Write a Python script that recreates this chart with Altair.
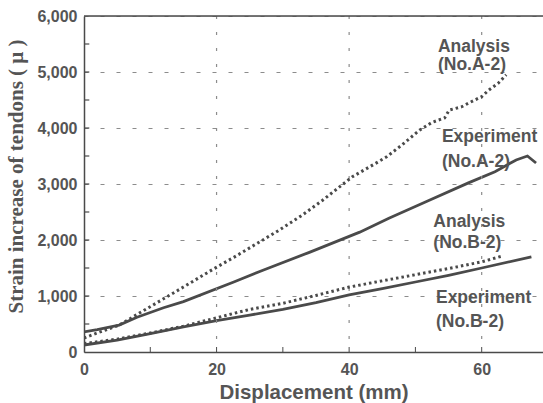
import altair as alt
import pandas as pd

# ---- data ----
ana_a2_x = [0, 2, 5.3, 8, 12, 15, 19.5, 22.6, 25, 29.5, 33, 36, 40.5, 43, 45.6, 48, 50.6, 52.5, 54.4, 55.1, 57, 58.1, 60, 61.1, 62.5, 63.7]
ana_a2_y = [250, 340, 480, 670, 950, 1160, 1480, 1690, 1860, 2180, 2450, 2710, 3130, 3300, 3480, 3700, 3960, 4100, 4180, 4320, 4380, 4450, 4560, 4680, 4800, 4950]

exp_a2_x = [0, 2, 5.3, 8, 12, 15, 22.6, 27, 34, 41.6, 46, 52.1, 58, 62, 65.2, 66.9, 68.2]
exp_a2_y = [360, 400, 480, 620, 790, 900, 1250, 1460, 1780, 2140, 2390, 2710, 3020, 3220, 3430, 3500, 3375]

ana_b2_x = [0, 5, 10, 15, 20, 22.6, 25, 30, 35, 40, 45, 50, 55, 60, 63]
ana_b2_y = [150, 230, 340, 460, 610, 690, 760, 870, 1010, 1160, 1270, 1380, 1490, 1610, 1710]

exp_b2_x = [0, 5, 10, 15, 20, 25, 30, 35, 40, 45, 50, 55, 60, 67.5]
exp_b2_y = [125, 210, 330, 450, 560, 660, 760, 880, 1020, 1130, 1250, 1370, 1500, 1700]

label_x = [53.4, 53.4, 54.0, 54.0, 52.7, 52.7, 53.1, 53.1]
label_y = [5357, 5030, 3750, 3304, 2232, 1857, 875, 446]
label_text = ["Analysis", "(No.A-2)", "Experiment", "(No.A-2)",
              "Analysis", "(No.B-2)", "Experiment", "(No.B-2)"]

x_ticks = [0, 20, 40, 60]
y_ticks = [0, 1000, 2000, 3000, 4000, 5000, 6000]
x_grid = [20, 40, 60]
x_minor = [10, 20, 30, 40, 50, 60]
y_minor = [500, 1000, 1500, 2000, 2500, 3000, 3500, 4000, 4500, 5000, 5500]

W, H = 459, 336
X_MAX = 69.25
Y_MAX = 6000
INK = "#4a4a4a"
TXT = "#555555"
GRID = "#8c8c8c"

rows = []
for name, kind, xs, ys in [
    ("Analysis A-2", "analysis", ana_a2_x, ana_a2_y),
    ("Experiment A-2", "experiment", exp_a2_x, exp_a2_y),
    ("Analysis B-2", "analysis", ana_b2_x, ana_b2_y),
    ("Experiment B-2", "experiment", exp_b2_x, exp_b2_y),
]:
    for i, (xv, yv) in enumerate(zip(xs, ys)):
        rows.append({"series": name, "kind": kind, "x": xv, "y": yv, "order": i})
df = pd.DataFrame(rows)

xscale = alt.Scale(domain=[0, X_MAX], nice=False, zero=False)
yscale = alt.Scale(domain=[0, Y_MAX], nice=False)

xaxis = alt.Axis(values=x_ticks, grid=False, ticks=False, domainColor=INK, domainWidth=1.5,
                 labelFont="Liberation Sans", labelFontWeight="bold", labelFontSize=16,
                 labelColor=TXT, labelPadding=9, labelFlush=False,
                 title="Displacement (mm)", titleFont="Liberation Sans",
                 titleFontWeight="bold", titleFontSize=20.5, titleColor=TXT, titlePadding=5)
yaxis = alt.Axis(values=y_ticks, format=",d", grid=True, gridDash=[4, 12], gridColor=GRID,
                 gridWidth=1.2, ticks=False,
                 domainColor=INK, domainWidth=1.5,
                 labelFont="Liberation Sans", labelFontWeight="bold", labelFontSize=16,
                 labelColor=TXT, labelPadding=7,
                 title="Strain increase of tendons ( μ )", titleFont="Liberation Serif",
                 titleFontWeight="bold", titleFontSize=21, titleColor=TXT, titlePadding=10,
                 titleY=160)

# dashed vertical grid drawn as rules
xgrid = alt.Chart(pd.DataFrame({"gx": x_grid})).mark_rule(
    color=GRID, strokeWidth=1.2, strokeDash=[3, 13]
).encode(x=alt.X("gx:Q", scale=xscale), y=alt.value(0), y2=alt.value(H))

base = alt.Chart(df)

exp_lines = base.transform_filter(alt.datum.kind == "experiment").mark_line(
    color=INK, strokeWidth=2.8, clip=True
).encode(
    x=alt.X("x:Q", scale=xscale, axis=xaxis),
    y=alt.Y("y:Q", scale=yscale, axis=yaxis),
    detail="series:N",
    order="order:Q",
)

ana_lines = base.transform_filter(alt.datum.kind == "analysis").mark_line(
    color=INK, strokeWidth=3, strokeDash=[2.5, 3], clip=True
).encode(
    x=alt.X("x:Q", scale=xscale),
    y=alt.Y("y:Q", scale=yscale),
    detail="series:N",
    order="order:Q",
)

lab_df = pd.DataFrame({"x": label_x, "y": label_y, "t": label_text})
labels = alt.Chart(lab_df).mark_text(
    align="left", baseline="alphabetic", font="Liberation Sans", fontWeight="bold",
    fontSize=17.5, color=TXT
).encode(x=alt.X("x:Q", scale=xscale), y=alt.Y("y:Q", scale=yscale), text="t:N")

yticks = alt.Chart(pd.DataFrame({"ty": y_minor})).mark_rule(color=INK, strokeWidth=1.2).encode(
    y=alt.Y("ty:Q", scale=yscale), x=alt.datum(0), x2=alt.datum(0.8))

xticks = alt.Chart(pd.DataFrame({"x": x_minor})).mark_rule(color=INK, strokeWidth=1).encode(
    x=alt.X("x:Q", scale=xscale), y=alt.value(H), y2=alt.value(H - 5))

top_frame = alt.Chart(pd.DataFrame({"y": [Y_MAX]})).mark_rule(color=INK, strokeWidth=1.5).encode(
    y=alt.Y("y:Q", scale=yscale), x=alt.value(0), x2=alt.value(W))

chart = alt.layer(exp_lines, xgrid, ana_lines, yticks, xticks, top_frame, labels).properties(
    width=W, height=H,
    autosize=alt.AutoSizeParams(type="none"),
    padding={"left": 84, "top": 16, "right": 0, "bottom": 51},
).configure_view(stroke=None).configure(background="white")

chart.save("out.html", embed_options={"renderer": "svg", "actions": False})
